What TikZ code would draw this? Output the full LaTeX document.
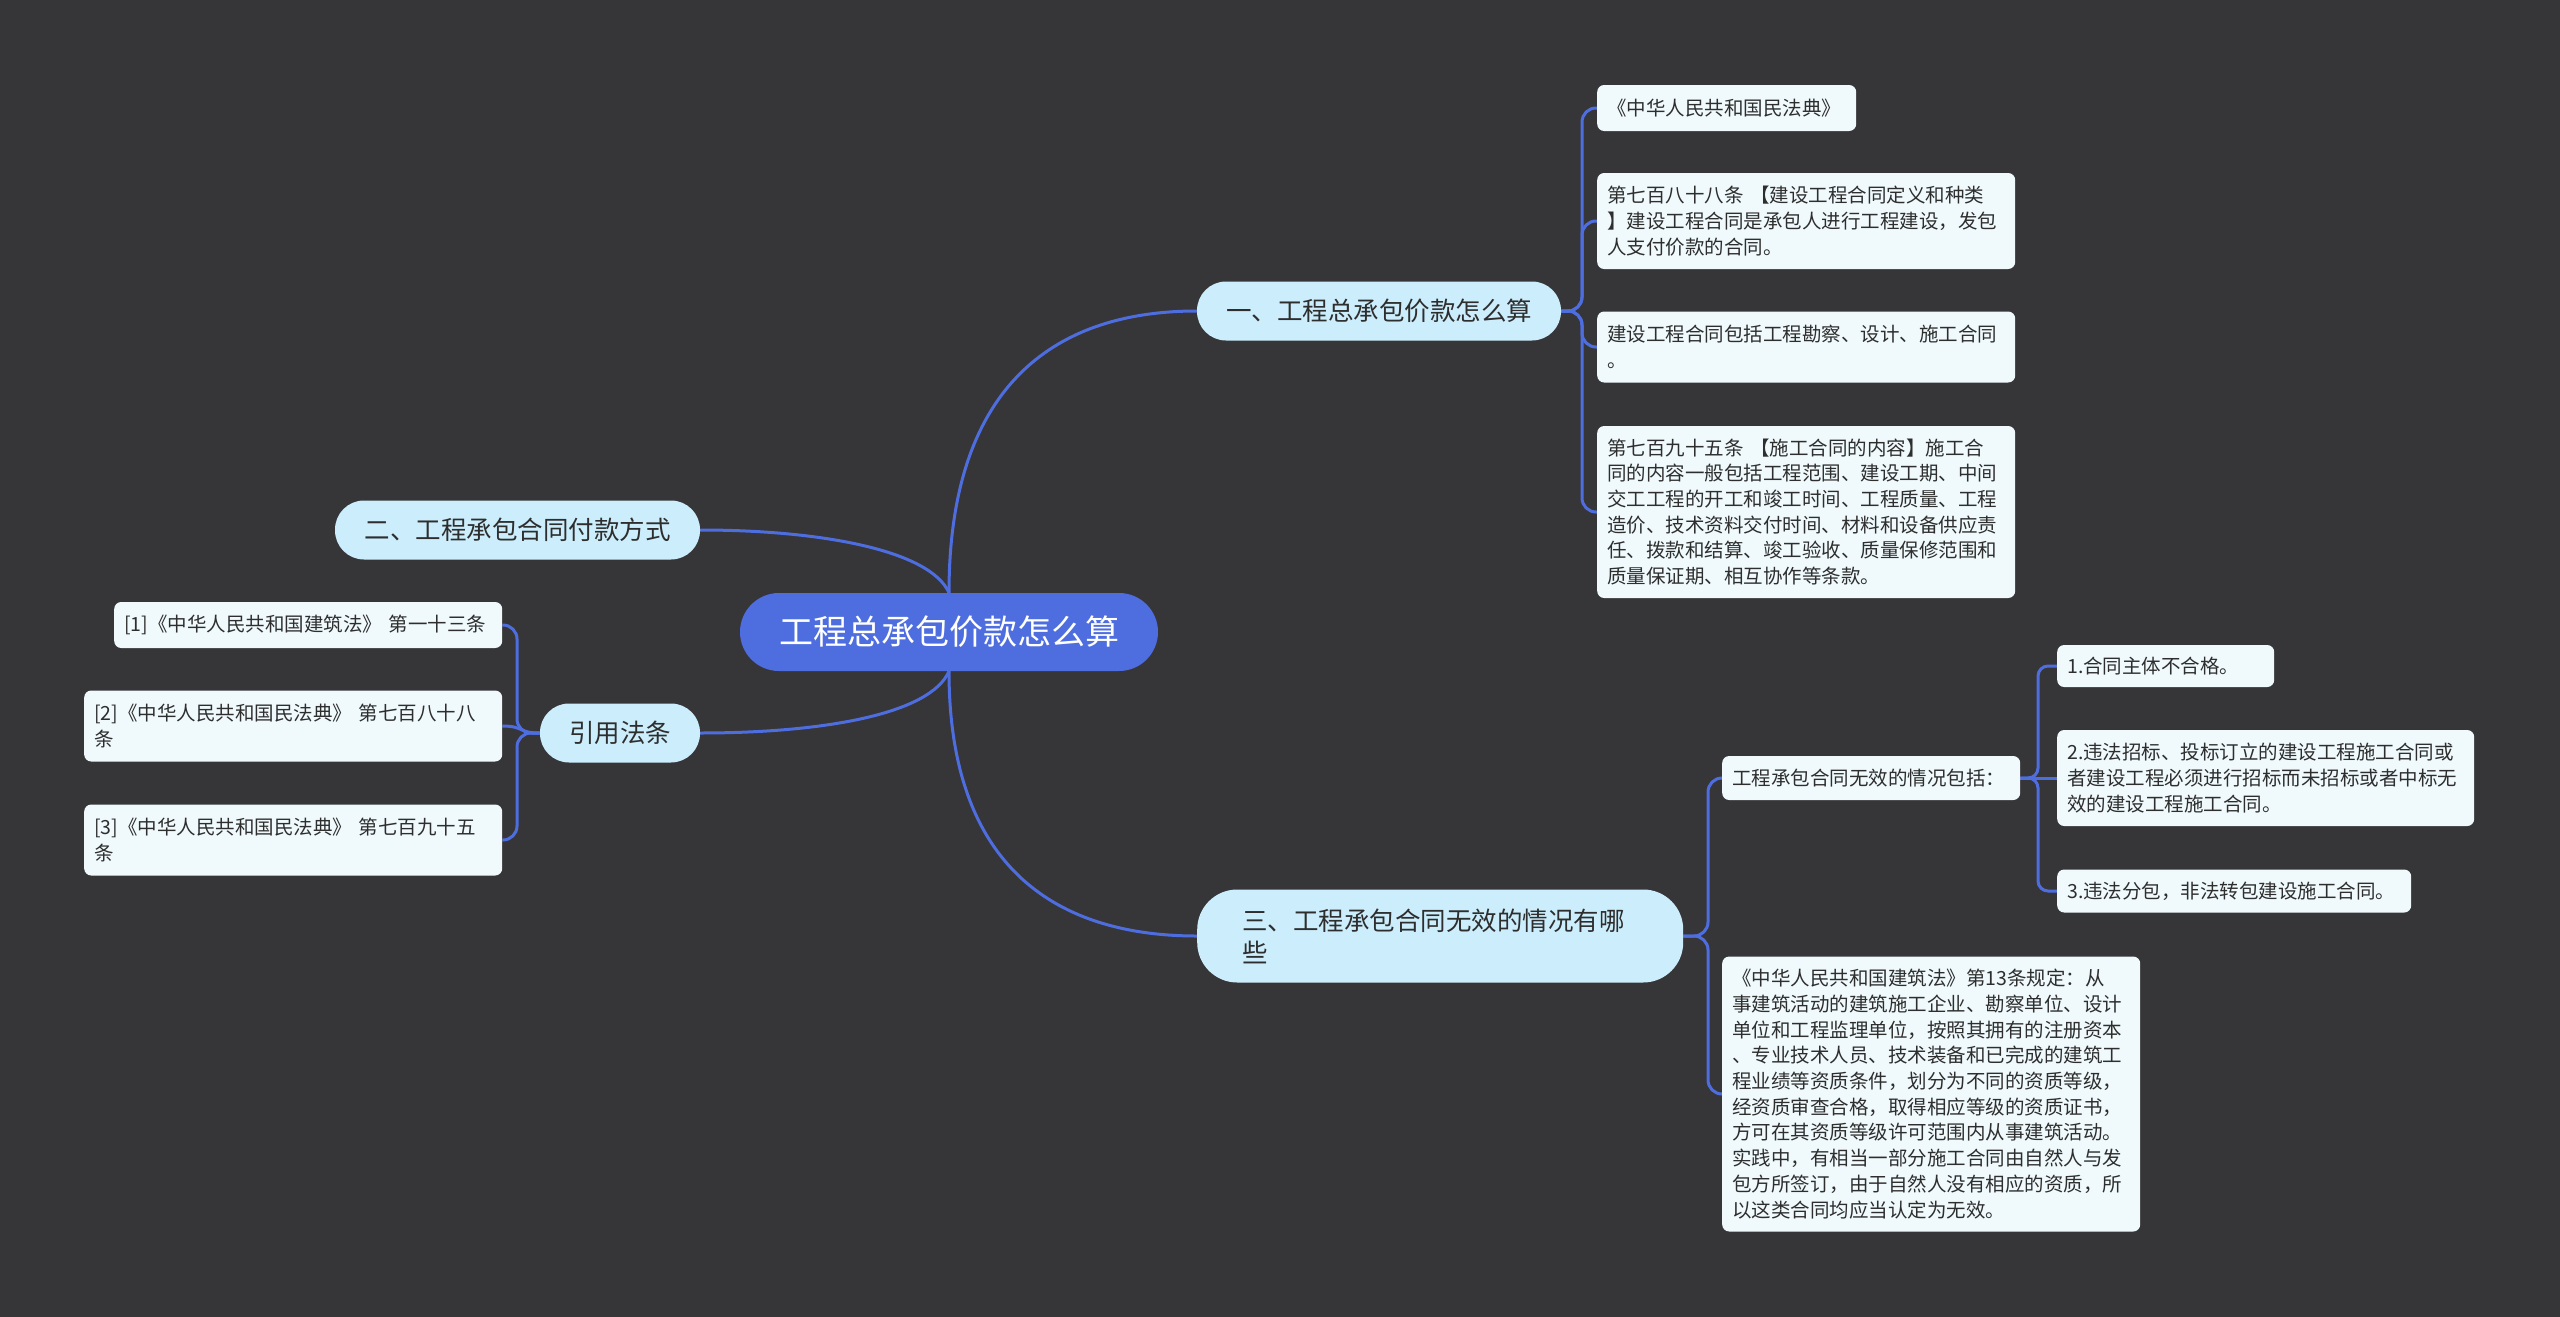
\documentclass[tikz,border=0pt]{standalone}
\usepackage{fontspec}
\setmainfont{Noto Sans CJK SC}
\setlength{\parindent}{0pt}
\definecolor{bgc}{HTML}{363538}
\definecolor{mainblue}{HTML}{4E6EE0}
\definecolor{branchfill}{HTML}{CCEEFC}
\definecolor{leaffill}{HTML}{F0FAFD}
\definecolor{txt}{HTML}{2E2E2E}
\pgfdeclarelayer{back}
\pgfdeclarelayer{edges}
\pgfsetlayers{back,edges,main}
\begin{document}
\begin{tikzpicture}[x=1pt,y=-1pt,
  rootbox/.style={fill=mainblue, text=white, rounded corners=39pt, minimum width=418pt, minimum height=78pt, font=\fontsize{34}{40}\selectfont, inner sep=0pt},
  branchbox/.style={fill=branchfill, text=txt, rounded corners=29pt, minimum height=59pt, font=\fontsize{25.5}{32}\selectfont, inner sep=0pt},
  leafbox/.style={fill=leaffill, text=txt, rounded corners=7pt, font=\fontsize{19.5}{25.7}\selectfont, align=left, inner xsep=10pt, inner ysep=0pt, anchor=west},
  link/.style={draw=mainblue, line width=3pt},
]
\begin{pgfonlayer}{back}
\fill[bgc] (0,0) rectangle (2560,1317);
\end{pgfonlayer}
\useasboundingbox (0,0) rectangle (2560,1317);

% root
\node[rootbox] (root) at (949,632) {工程总承包价款怎么算};

% branches
\node[branchbox, minimum width=364pt] (b1) at (1379,311) {一、工程总承包价款怎么算};
\node[branchbox, minimum width=365pt] (b2) at (517.5,530) {二、工程承包合同付款方式};
\node[branchbox, minimum width=160pt] (b4) at (620,733) {引用法条};
\node[branchbox, anchor=west, rounded corners=40pt, minimum height=93pt, inner xsep=45pt, text width=396pt, align=left] (b3) at (1197,936) {三、工程承包合同无效的情况有哪\\些};

% leaves of branch 1
\node[leafbox, text width=239pt, minimum height=46pt] (l1a) at (1597,108) {《中华人民共和国民法典》};
\node[leafbox, text width=398pt, minimum height=96pt] (l1b) at (1597,221) {第七百八十八条~【建设工程合同定义和种类\\】建设工程合同是承包人进行工程建设，发包\\人支付价款的合同。};
\node[leafbox, text width=398pt, minimum height=71pt] (l1c) at (1597,347) {建设工程合同包括工程勘察、设计、施工合同\\。};
\node[leafbox, text width=398pt, minimum height=172pt] (l1d) at (1597,512) {第七百九十五条~【施工合同的内容】施工合\\同的内容一般包括工程范围、建设工期、中间\\交工工程的开工和竣工时间、工程质量、工程\\造价、技术资料交付时间、材料和设备供应责\\任、拨款和结算、竣工验收、质量保修范围和\\质量保证期、相互协作等条款。};

% children of branch 3
\node[leafbox, text width=278pt, minimum height=44pt] (c1) at (1722,778) {工程承包合同无效的情况包括：};
\node[leafbox, text width=197pt, minimum height=42pt] (c11) at (2057,666) {1.合同主体不合格。};
\node[leafbox, text width=397pt, minimum height=96pt] (c12) at (2057,778) {2.违法招标、投标订立的建设工程施工合同或\\者建设工程必须进行招标而未招标或者中标无\\效的建设工程施工合同。};
\node[leafbox, text width=334pt, minimum height=43pt] (c13) at (2057,891) {3.违法分包，非法转包建设施工合同。};
\node[leafbox, text width=398pt, minimum height=275pt] (c2) at (1722,1094) {《中华人民共和国建筑法》第13条规定：从\\事建筑活动的建筑施工企业、勘察单位、设计\\单位和工程监理单位，按照其拥有的注册资本\\、专业技术人员、技术装备和已完成的建筑工\\程业绩等资质条件，划分为不同的资质等级，\\经资质审查合格，取得相应等级的资质证书，\\方可在其资质等级许可范围内从事建筑活动。\\实践中，有相当一部分施工合同由自然人与发\\包方所签订，由于自然人没有相应的资质，所\\以这类合同均应当认定为无效。};

% references
\node[leafbox, text width=368pt, minimum height=46pt] (r1) at (114,625) {[1]《中华人民共和国建筑法》~第一十三条};
\node[leafbox, text width=398pt, minimum height=71pt] (r2) at (84,726) {[2]《中华人民共和国民法典》~第七百八十八\\条};
\node[leafbox, text width=398pt, minimum height=71pt] (r3) at (84,840) {[3]《中华人民共和国民法典》~第七百九十五\\条};

\begin{pgfonlayer}{edges}
\draw[link] (root.north) .. controls (949,380) and (1060,311) .. (b1.west);
\draw[link] (root.south) .. controls (949,871) and (1060,936) .. (b3.west);
\draw[link] (b2.east) .. controls (820,530) and (930,550) .. (root.north);
\draw[link] (b4.east) .. controls (820,733) and (930,715) .. (root.south);

\draw[link, rounded corners=14pt] (b1.east) -- (1582,311) |- (l1a.west);
\draw[link, rounded corners=14pt] (b1.east) -- (1582,311) |- (l1b.west);
\draw[link, rounded corners=14pt] (b1.east) -- (1582,311) |- (l1c.west);
\draw[link, rounded corners=14pt] (b1.east) -- (1582,311) |- (l1d.west);

\draw[link, rounded corners=14pt] (b3.east) -- (1708,936) |- (c1.west);
\draw[link, rounded corners=14pt] (b3.east) -- (1708,936) |- (c2.west);

\draw[link, rounded corners=10pt] (c1.east) -- (2038,778) |- (c11.west);
\draw[link] (c1.east) -- (c12.west);
\draw[link, rounded corners=10pt] (c1.east) -- (2038,778) |- (c13.west);

\draw[link, rounded corners=14pt] (b4.west) -- (517,733) |- (r1.east);
\draw[link] (b4.west) .. controls (518,733) and (524,726) .. (r2.east);
\draw[link, rounded corners=14pt] (b4.west) -- (517,733) |- (r3.east);
\end{pgfonlayer}
\end{tikzpicture}
\end{document}
